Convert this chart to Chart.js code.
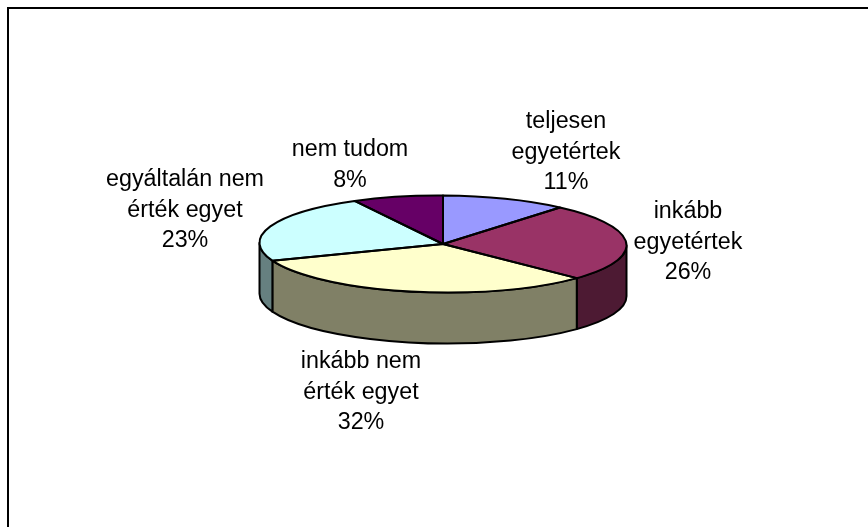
<!DOCTYPE html>
<html>
<head>
<meta charset="utf-8">
<style>
html,body{margin:0;padding:0;background:#fff;overflow:hidden}
#wrap{position:relative;width:868px;height:527px}
#frame{position:absolute;left:7px;top:7px;right:0;bottom:0;border-left:2px solid #000;border-top:2px solid #000}
canvas{position:absolute;left:0;top:0}
</style>
<script src="https://cdn.jsdelivr.net/npm/chart.js@4"></script>
</head>
<body>
<div id="wrap"><canvas id="c" width="868" height="527"></canvas><div id="frame"></div></div>
<script>
const categories = ["teljesen egyetértek","inkább egyetértek","inkább nem érték egyet","egyáltalán nem érték egyet","nem tudom"];
const values = [11,26,32,23,8];
const labelLines = [["teljesen","egyetértek"],["inkább","egyetértek"],["inkább nem","érték egyet"],["egyáltalán nem","érték egyet"],["nem tudom"]];
const topColors = ["#9999FF","#993366","#FFFFCC","#CCFFFF","#660066"];
const wallColors = ["#4D4D80","#4D1A33","#808066","#668080","#330033"];
const labelCenters = [[566,121.5],[688,211.5],[361,361.5],[185,179.5],[350,149.5]];
const LINE_HEIGHT = 30.6;
const FONT = '23.3px "Liberation Sans", Arial, sans-serif';
const SQUASH = 0.264;
const SHEAR = 0.007;
const DEPTH = 51;

function project(ctx, x, y){
  ctx.translate(x, y);
  ctx.transform(1, SHEAR, 0, SQUASH, 0, 0);
  ctx.translate(-x, -y);
}
const pie3d = {
  id: 'pie3d',
  beforeDatasetDraw(chart){
    const ctx = chart.ctx;
    const arcs = chart.getDatasetMeta(0).data;
    ctx.save();
    ctx.lineWidth = 2;
    ctx.strokeStyle = '#000';
    ctx.lineJoin = 'round';
    arcs.forEach((arc, i) => {
      const p = arc.getProps(['x','y','startAngle','endAngle','outerRadius'], true);
      const lo = Math.max(p.startAngle, 0), hi = Math.min(p.endAngle, Math.PI);
      if (lo >= hi) return;
      ctx.save();
      project(ctx, p.x, p.y);
      ctx.beginPath();
      ctx.arc(p.x, p.y, p.outerRadius, lo, hi);
      ctx.arc(p.x, p.y + DEPTH / SQUASH, p.outerRadius, hi, lo, true);
      ctx.closePath();
      ctx.restore();
      ctx.fillStyle = wallColors[i];
      ctx.fill();
      ctx.stroke();
    });
    ctx.restore();
    const c = arcs[0];
    ctx.save();
    project(ctx, c.x, c.y);
  },
  afterDatasetDraw(chart){
    const ctx = chart.ctx;
    ctx.restore();
    const arcs = chart.getDatasetMeta(0).data;
    ctx.save();
    ctx.lineWidth = 2;
    ctx.strokeStyle = '#000';
    ctx.lineJoin = 'round';
    arcs.forEach((arc) => {
      const p = arc.getProps(['x','y','startAngle','endAngle','outerRadius'], true);
      ctx.save();
      project(ctx, p.x, p.y);
      ctx.beginPath();
      ctx.moveTo(p.x, p.y);
      ctx.arc(p.x, p.y, p.outerRadius, p.startAngle, p.endAngle);
      ctx.closePath();
      ctx.restore();
      ctx.stroke();
    });
    ctx.restore();
  },
  afterDraw(chart){
    const ctx = chart.ctx;
    ctx.save();
    ctx.font = FONT;
    ctx.fillStyle = '#000';
    ctx.textAlign = 'center';
    ctx.textBaseline = 'middle';
    labelLines.forEach((lines, i) => {
      const all = lines.concat(values[i] + '%');
      all.forEach((t, j) => ctx.fillText(t, labelCenters[i][0], labelCenters[i][1] + j * LINE_HEIGHT));
    });
    ctx.restore();
  }
};
new Chart(document.getElementById('c'), {
  type: 'pie',
  data: {
    labels: categories,
    datasets: [{ data: values, backgroundColor: topColors, borderWidth: 0, radius: 183.5 }]
  },
  options: {
    responsive: false,
    animation: false,
    layout: { padding: { left: 18, bottom: 39 } },
    plugins: { legend: { display: false }, tooltip: { enabled: false }, title: { display: false } }
  },
  plugins: [pie3d]
});
</script>
</body>
</html>
